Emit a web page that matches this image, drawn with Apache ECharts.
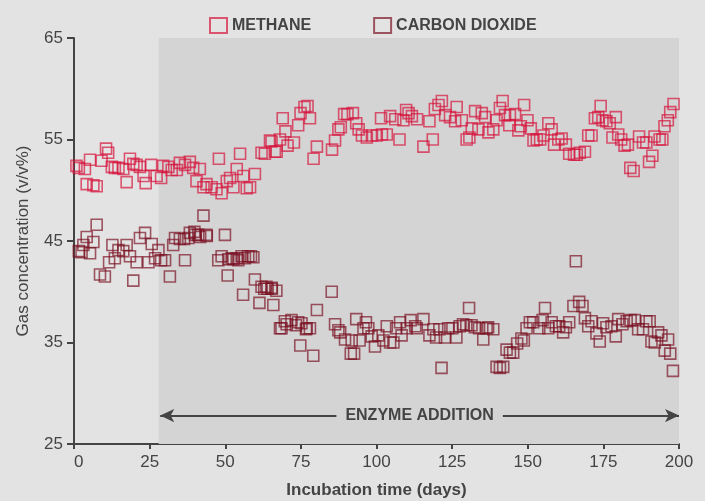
<!DOCTYPE html>
<html>
<head>
<meta charset="utf-8">
<script src="https://cdn.jsdelivr.net/npm/echarts@6/dist/echarts.min.js"></script>
<style>
html,body{margin:0;padding:0;background:#e3e3e3;}
#chart{width:705px;height:501px;}
</style>
</head>
<body>
<div id="chart"></div>
<script>
// ---- data ----
const seriesNames = ['METHANE', 'CARBON DIOXIDE'];
const xTicks = [0, 25, 50, 75, 100, 125, 150, 175, 200];
const yTicks = [25, 35, 45, 55, 65];
const enzymeStart = 28;
const enzymeEnd = 200;

const methaneDays = [0.8,1.6,3.6,4.2,5.3,6.4,7.5,9.1,10.6,11.3,12.5,13.5,14.7,16.3,17.4,18.5,19.6,20.7,21.8,23.0,23.7,25.5,27.3,28.8,29.5,31.2,32.3,34.0,35.0,36.7,38.3,39.4,40.5,41.6,42.8,43.8,45.5,47.1,47.9,48.8,50.5,51.6,52.7,53.8,54.9,56.0,57.1,58.2,59.8,62.0,63.1,64.8,65.3,66.4,67.0,68.1,69.0,69.9,70.6,72.7,74.1,74.9,76.2,77.2,78.0,79.2,80.3,85.3,86.3,87.4,88.2,89.3,90.4,92.2,93.3,94.1,95.2,96.8,98.5,100.1,101.5,101.8,103.4,104.5,106.2,107.6,108.9,109.8,110.6,111.7,113.4,115.5,117.5,118.6,119.3,120.5,121.6,122.7,124.3,126.0,126.5,128.2,129.8,130.7,131.5,132.6,133.7,134.8,135.9,137.0,138.6,139.7,140.8,141.7,142.5,143.9,144.1,145.8,146.9,147.7,148.8,149.9,151.0,151.9,153.0,154.1,155.2,156.8,157.9,158.7,160.1,161.2,162.6,163.7,165.3,166.2,167.2,168.9,170.0,171.1,172.2,173.3,174.1,174.7,176.0,177.1,178.0,179.1,179.9,180.9,182.0,183.1,183.9,185.0,186.8,188.1,189.2,190.1,191.2,191.9,193.6,194.5,195.2,196.3,197.1,198.2];
const methaneVals = [52.4,52.2,52.1,50.6,53.0,50.5,50.4,52.9,54.1,53.7,52.3,52.2,52.2,52.1,50.8,53.1,52.6,52.5,52.3,51.4,50.7,52.5,51.4,51.2,52.4,52.3,52.0,52.0,52.7,52.5,52.8,52.2,50.9,52.1,50.3,50.6,50.3,50.1,53.1,49.7,50.9,51.2,50.3,52.1,53.6,51.4,50.2,50.3,51.6,53.7,53.6,54.9,54.8,53.8,53.8,55.0,57.1,55.8,54.4,54.7,56.4,57.6,58.2,58.3,57.1,53.1,54.3,54.0,54.9,56.0,56.2,57.5,57.5,57.6,56.6,56.0,55.4,55.2,55.4,55.4,57.1,55.5,55.5,57.3,57.0,55.0,56.9,57.9,57.6,57.3,57.0,54.3,56.8,55.0,58.0,58.4,58.8,57.4,57.2,56.8,58.2,56.9,55.0,55.2,56.1,57.8,56.0,57.6,57.2,55.7,56.0,56.9,58.1,58.8,57.4,56.4,57.4,57.5,55.9,56.3,58.4,56.9,56.1,54.9,55.0,55.0,55.4,56.6,56.0,54.5,55.0,55.1,54.5,53.6,53.5,53.5,53.7,53.8,55.4,55.4,57.1,57.2,58.3,56.9,56.8,56.6,55.2,57.2,55.5,55.0,54.4,54.5,52.2,51.9,55.3,54.7,54.7,52.8,53.4,55.3,55.0,55.0,56.3,56.9,57.7,58.5];

const co2Days = [1.6,2.5,3.1,4.2,5.3,6.4,7.5,8.6,10.2,11.6,12.7,13.5,14.7,16.3,17.4,18.5,19.6,20.7,21.8,23.5,24.6,25.7,26.8,27.9,28.8,30.1,31.7,32.8,33.4,35.0,36.4,36.7,37.8,38.3,39.8,40.0,41.1,41.7,42.8,43.8,43.9,47.7,48.8,49.9,50.8,51.0,52.1,52.7,53.8,54.3,55.4,55.9,56.5,57.6,58.5,59.3,59.8,61.3,62.0,62.9,63.6,64.0,65.3,65.4,65.9,66.9,68.1,68.6,69.7,70.3,71.9,73.4,74.1,74.8,75.2,76.7,76.9,78.0,79.1,80.3,85.2,86.3,87.4,88.0,89.6,91.5,91.8,92.6,93.3,94.4,95.7,96.5,97.3,98.4,99.5,100.6,102.3,103.4,104.5,105.6,106.5,107.8,108.3,110.0,111.3,112.8,113.3,115.5,117.5,118.8,119.7,120.8,121.5,122.6,123.7,125.1,126.4,127.5,128.6,129.7,130.6,131.4,132.5,133.9,135.3,136.4,136.9,138.6,139.7,140.8,141.9,143.0,144.1,145.2,146.5,147.9,148.7,149.6,150.7,151.8,153.8,154.9,155.7,156.8,157.9,159.3,160.4,161.7,162.6,163.7,165.1,165.9,167.0,168.1,168.9,170.0,171.1,172.7,173.8,174.9,176.0,177.7,179.1,179.9,181.3,182.7,184.0,185.4,186.5,188.1,189.2,190.3,190.9,192.0,193.1,194.2,195.3,196.4,197.1,198.0];
const co2Vals = [44.0,43.9,44.6,45.4,43.8,44.9,46.6,41.7,41.5,42.9,44.6,43.3,44.1,44.0,44.6,43.5,41.1,42.9,45.3,45.8,42.9,44.7,43.3,44.1,43.1,43.1,41.5,44.6,45.3,45.2,45.2,43.1,45.3,45.8,45.9,45.6,45.6,45.4,47.5,45.6,45.5,43.1,43.5,45.6,41.6,43.2,43.3,43.2,43.3,43.1,43.5,39.7,43.3,43.5,43.5,43.4,41.2,38.9,40.5,40.3,40.5,40.3,40.4,40.3,38.7,40.1,36.4,36.4,37.1,36.8,37.2,36.7,37.0,34.7,36.9,36.3,36.4,36.4,33.7,38.2,40.0,36.8,36.2,36.0,35.3,33.9,35.2,33.9,37.3,35.2,36.4,37.0,36.4,35.6,34.6,35.7,35.2,36.6,35.0,35.0,36.4,37.0,35.7,36.4,37.2,36.6,36.4,37.3,35.7,36.3,35.5,36.3,32.5,35.5,36.4,36.4,35.5,36.6,36.8,36.7,38.4,36.7,36.5,36.4,35.3,36.4,36.5,36.3,32.6,32.5,32.6,34.3,34.0,34.0,34.9,35.4,35.2,36.4,37.0,37.0,36.4,37.2,38.4,36.4,37.0,36.6,36.6,36.0,36.5,37.0,38.6,43.0,39.0,38.6,37.4,36.6,37.1,35.9,35.1,36.9,36.5,36.6,35.6,37.3,36.8,37.1,37.2,37.2,36.3,36.3,37.1,37.1,35.1,35.0,36.0,35.7,34.2,35.3,33.9,32.2];

const pairs = (xs, ys) => xs.map((x, i) => [x, ys[i]]);

const TXT = '#444444';
const FONT = '"Liberation Sans", Arial, sans-serif';
const chart = echarts.init(document.getElementById('chart'));
chart.setOption({
  backgroundColor: '#e3e3e3',
  animation: false,
  grid: { left: 74, right: 26, top: 38, bottom: 57, containLabel: false, outerBoundsMode: 'none' },
  legend: {
    top: 12, left: 204, itemGap: 62, itemWidth: 17, itemHeight: 15,
    data: seriesNames,
    textStyle: { color: TXT, fontFamily: FONT, fontWeight: 'bold', fontSize: 16 }
  },
  xAxis: {
    type: 'value', min: 0, max: 200, interval: 25,
    name: 'Incubation time (days)', nameLocation: 'middle', nameGap: 38,
    nameTextStyle: { color: TXT, fontFamily: FONT, fontWeight: 'bold', fontSize: 17 },
    axisLine: { show: true, lineStyle: { color: '#444', width: 2 } },
    axisTick: { show: true, length: 5, lineStyle: { color: '#444', width: 2 } },
    axisLabel: { color: TXT, fontFamily: FONT, fontSize: 17, margin: 10, alignMinLabel: 'left',
      formatter: v => xTicks.includes(v) ? String(v) : '' },
    splitLine: { show: false }
  },
  yAxis: {
    type: 'value', min: 25, max: 65, interval: 10,
    name: 'Gas concentration (v/v%)', nameLocation: 'middle', nameGap: 42,
    nameTextStyle: { color: TXT, fontFamily: FONT, fontSize: 17 },
    axisLine: { show: true, lineStyle: { color: '#444', width: 2 } },
    axisTick: { show: true, length: 7, lineStyle: { color: '#444', width: 2 } },
    axisLabel: { color: TXT, fontFamily: FONT, fontSize: 17, margin: 11,
      formatter: v => yTicks.includes(v) ? String(v) : '' },
    splitLine: { show: false }
  },
  series: [
    {
      name: 'enzyme', type: 'scatter', data: [], z: 1, silent: true,
      markArea: {
        silent: true,
        itemStyle: { color: '#d4d4d4' },
        data: [[{ xAxis: enzymeStart }, { xAxis: enzymeEnd }]]
      },
      markLine: {
        silent: true,
        symbol: ['arrow', 'arrow'], symbolSize: [10, 14],
        lineStyle: { color: '#444', width: 2, type: 'solid' },
        label: {
          show: true, position: 'insideMiddle', formatter: 'ENZYME ADDITION',
          color: TXT, fontFamily: FONT, fontWeight: 'bold', fontSize: 16,
          backgroundColor: '#d4d4d4', padding: [2, 9]
        },
        data: [[{ coord: [enzymeStart + 0.5, 27.8] }, { coord: [enzymeEnd, 27.8] }]]
      }
    },
    {
      name: 'METHANE', type: 'scatter', z: 3, symbol: 'rect', symbolSize: 11,
      itemStyle: { color: 'rgba(0,0,0,0)', borderColor: 'rgba(214,18,58,0.85)', borderWidth: 1.6 },
      data: pairs(methaneDays, methaneVals)
    },
    {
      name: 'CARBON DIOXIDE', type: 'scatter', z: 2, symbol: 'rect', symbolSize: 11,
      itemStyle: { color: 'rgba(0,0,0,0)', borderColor: 'rgba(122,16,34,0.85)', borderWidth: 1.6 },
      data: pairs(co2Days, co2Vals)
    }
  ]
});
</script>
</body>
</html>
